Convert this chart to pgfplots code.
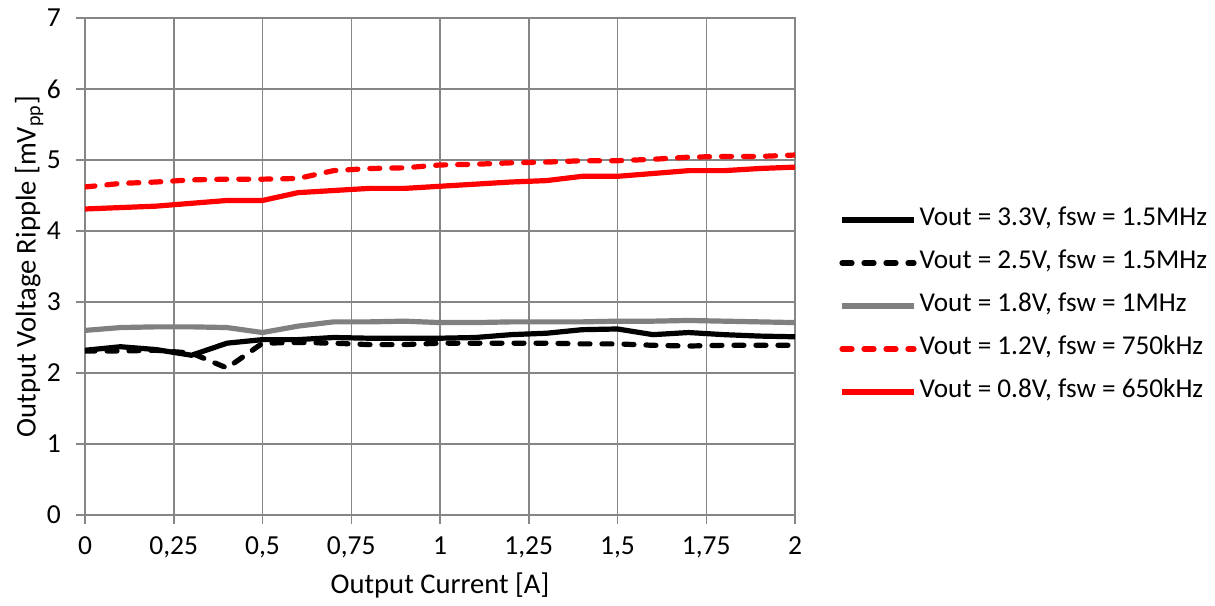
\documentclass[border=0pt]{standalone}
\usepackage{fontspec}
\setmainfont{Carlito}
\usepackage{pgfplots}
\usepackage{pgfplotstable}
\pgfplotsset{compat=1.18}

\pgfplotstableread{
x    va    vb    vc    vd    ve
0.0  2.32  2.31  2.60  4.62  4.31
0.1  2.37  2.31  2.64  4.67  4.33
0.2  2.33  2.32  2.65  4.69  4.35
0.3  2.25  2.28  2.65  4.72  4.39
0.4  2.42  2.07  2.64  4.73  4.43
0.5  2.47  2.42  2.57  4.73  4.43
0.6  2.47  2.43  2.66  4.74  4.54
0.7  2.50  2.42  2.72  4.85  4.57
0.8  2.49  2.40  2.72  4.88  4.60
0.9  2.49  2.40  2.73  4.89  4.60
1.0  2.49  2.42  2.71  4.93  4.63
1.1  2.50  2.42  2.71  4.94  4.66
1.2  2.54  2.42  2.72  4.96  4.69
1.3  2.56  2.42  2.72  4.97  4.71
1.4  2.61  2.41  2.72  4.99  4.77
1.5  2.62  2.41  2.73  4.99  4.77
1.6  2.54  2.39  2.73  5.01  4.81
1.7  2.57  2.38  2.74  5.04  4.85
1.8  2.54  2.39  2.73  5.05  4.85
1.9  2.52  2.39  2.72  5.05  4.88
2.0  2.51  2.39  2.71  5.07  4.90
}\ripple

\definecolor{gridgray}{RGB}{134,134,134}
\definecolor{sergray}{RGB}{128,128,128}

\begin{document}
\begin{tikzpicture}
\begin{axis}[
  name=ax,
  scale only axis,
  width=355pt, height=248.5pt,
  xmin=0, xmax=2, ymin=0, ymax=7,
  xtick={0,0.25,...,2}, ytick={0,1,...,7},
  xticklabels={0,{0,25},{0,5},{0,75},1,{1,25},{1,5},{1,75},2},
  xtick pos=bottom, ytick pos=left,
  tick align=outside,
  major tick length=4.5pt,
  tick style={gridgray, line width=0.75pt},
  grid=major,
  major grid style={gridgray, line width=0.75pt},
  axis line style={gridgray, line width=0.75pt},
  /pgf/number format/assume math mode=true,
  ticklabel style={font=\fontsize{13.75}{16}\selectfont},
  xticklabel style={yshift=-3pt},
  yticklabel style={xshift=-4pt},
  xlabel={Output Current [A]},
  ylabel={Output Voltage Ripple [mV\textsubscript{pp}]},
  label style={font=\fontsize{14.3}{17}\selectfont},
  xlabel style={yshift=-0.5pt},
  ylabel style={yshift=-5pt},
  legend image code/.code={\draw[#1] (0pt,0pt) -- (36pt,0pt);},
  legend style={
    draw=none, fill=none,
    at={(rel axis cs:1,0.4286)}, anchor=west, xshift=22pt, yshift=-2pt,
    inner sep=0pt, row sep=6.5pt,
    font=\fontsize{13.6}{16}\selectfont,
    nodes={inner sep=1.5pt, text height=9pt, text depth=3pt},
    legend cell align=left,
  },
]
\addplot[black, line width=2.6pt, line join=round] table[x=x, y=va] {\ripple};
\addplot[black, line width=2.6pt, line cap=round, line join=round, dash pattern=on 5pt off 6pt] table[x=x, y=vb] {\ripple};
\addplot[sergray, line width=2.6pt, line join=round] table[x=x, y=vc] {\ripple};
\addplot[red, line width=2.6pt, line cap=round, line join=round, dash pattern=on 5pt off 6pt] table[x=x, y=vd] {\ripple};
\addplot[red, line width=2.6pt, line join=round] table[x=x, y=ve] {\ripple};
\legend{{Vout = 3.3V, fsw = 1.5MHz},{Vout = 2.5V, fsw = 1.5MHz},{Vout = 1.8V, fsw = 1MHz},{Vout = 1.2V, fsw = 750kHz},{Vout = 0.8V, fsw = 650kHz}}
\end{axis}
\path (ax.south west) ++(-42.5pt,-45pt) rectangle ++(607.5pt,302.5pt);
\end{tikzpicture}
\end{document}
